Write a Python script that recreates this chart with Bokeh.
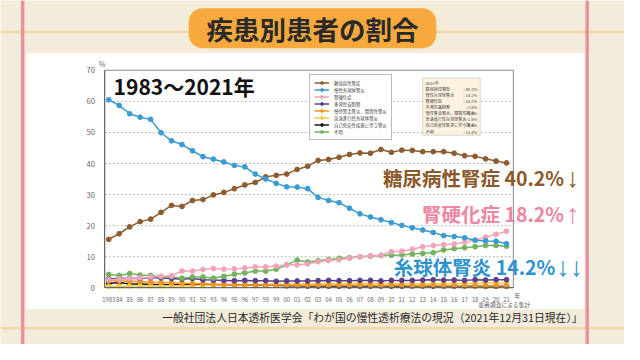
from bokeh.plotting import figure
from bokeh.models import Range1d, FixedTicker, Label, BoxAnnotation, Legend, LegendItem, LinearAxis
from bokeh.embed import file_html
from bokeh.resources import INLINE

# ---------------- data ----------------
years = [1983, 1984, 1985, 1986, 1987, 1988, 1989, 1990, 1991, 1992,
         1993, 1994, 1995, 1996, 1997, 1998, 1999, 2000, 2001, 2002,
         2003, 2004, 2005, 2006, 2007, 2008, 2009, 2010, 2011, 2012,
         2013, 2014, 2015, 2016, 2017, 2018, 2019, 2020, 2021]
year_labels = ["1983", "84", "85", "86", "87", "88", "89", "90", "91", "92",
               "93", "94", "95", "96", "97", "98", "99", "00", "01", "02",
               "03", "04", "05", "06", "07", "08", "09", "10", "11", "12",
               "13", "14", "15", "16", "17", "18", "19", "20", "21"]
y_ticks = [0, 10, 20, 30, 40, 50, 60, 70]

diabetic = [15.6, 17.4, 19.6, 21.3, 22.1, 24.3, 26.5, 26.2, 28.1, 28.4,
            29.9, 30.7, 31.9, 33.1, 33.9, 35.7, 36.2, 36.6, 38.1, 39.1,
            41.0, 41.3, 42.0, 42.9, 43.4, 43.3, 44.5, 43.6, 44.3, 44.2,
            43.8, 43.8, 43.8, 43.3, 42.5, 42.3, 41.5, 40.8, 40.2]
cgn = [60.5, 58.7, 56.0, 54.9, 54.2, 49.9, 47.3, 46.1, 44.1, 42.2,
       41.4, 40.5, 39.4, 38.9, 36.6, 35.0, 33.6, 32.5, 32.4, 31.9,
       29.1, 28.1, 27.4, 25.6, 23.8, 22.8, 21.9, 21.0, 20.1, 19.3,
       18.6, 17.8, 16.8, 16.5, 16.1, 15.3, 15.1, 15.0, 14.2]
sclerosis = [2.6, 2.8, 3.0, 3.2, 3.5, 3.7, 3.9, 5.4, 5.4, 5.9,
             6.2, 6.0, 6.1, 6.4, 6.7, 6.7, 7.0, 7.4, 7.4, 7.7,
             8.4, 8.8, 9.0, 9.5, 10.0, 10.3, 10.5, 11.6, 11.8, 12.4,
             13.2, 13.6, 13.9, 14.1, 14.7, 15.4, 16.3, 17.2, 18.2]
pkd = [2.9, 3.0, 3.1, 3.0, 3.3, 3.2, 3.0, 2.8, 3.0, 2.6,
       2.5, 2.4, 2.3, 2.4, 2.3, 2.3, 2.1, 2.2, 2.2, 2.2,
       2.3, 2.4, 2.3, 2.3, 2.4, 2.4, 2.2, 2.4, 2.4, 2.4,
       2.5, 2.6, 2.5, 2.5, 2.4, 2.6, 2.5, 2.6, 2.6]
pyelo = [2.3, 2.2, 2.1, 2.0, 1.8, 1.7, 1.6, 1.5, 1.4, 1.3,
         1.2, 1.1, 1.1, 1.0, 1.0, 0.9, 0.9, 0.9, 0.8, 0.8,
         0.8, 0.8, 0.8, 0.8, 0.8, 0.8, 0.7, 0.8, 0.8, 0.7,
         0.7, 0.8, 0.7, 0.7, 0.7, 0.6, 0.6, 0.6, 0.6]
rpgn = [0.5, 0.5, 0.6, 0.6, 0.6, 0.6, 0.7, 0.7, 0.7, 0.8,
        0.9, 1.0, 1.0, 1.0, 1.1, 1.1, 1.2, 1.2, 1.3, 1.3,
        1.3, 1.3, 1.3, 1.4, 1.4, 1.4, 1.4, 1.3, 1.2, 1.3,
        1.3, 1.4, 1.4, 1.4, 1.4, 1.5, 1.6, 1.5, 1.6]
autoimmune = [1.4, 1.7, 1.2, 1.2, 1.1, 1.0, 1.0, 1.0, 1.1, 1.1,
              1.0, 1.0, 0.9, 0.9, 0.8, 0.8, 0.8, 0.7, 0.7, 0.6,
              0.6, 0.6, 0.6, 0.6, 0.6, 0.6, 0.6, 0.6, 0.6, 0.6,
              0.6, 0.6, 0.6, 0.6, 0.6, 0.6, 0.5, 0.5, 0.5]
unknown = [4.3, 4.0, 4.6, 4.1, 4.0, 3.6, 3.6, 3.1, 3.5, 3.5,
           3.1, 3.7, 4.4, 4.8, 5.4, 5.4, 6.0, 7.4, 8.9, 8.3,
           8.7, 9.1, 9.5, 9.7, 10.0, 10.2, 10.4, 10.5, 10.6, 10.9,
           11.1, 11.3, 12.2, 12.6, 12.9, 13.2, 13.6, 13.6, 13.4]

series_names = ["糖尿病性腎症", "慢性糸球体腎炎", "腎硬化症", "多発性嚢胞腎",
                "慢性腎盂腎炎、間質性腎炎", "急速進行性糸球体腎炎",
                "自己免疫性疾患に伴う腎炎", "不明"]
series_values = [diabetic, cgn, sclerosis, pkd, pyelo, rpgn, autoimmune, unknown]
series_colors = ["#8d5b2e", "#3b9bd3", "#f3a3b8", "#5b3f8c",
                 "#f0961e", "#f7c948", "#1a1a1a", "#6fb35b"]
draw_order = [6, 5, 4, 3, 7, 2, 0, 1]

JP = "Noto Sans CJK JP"
CREAM = "#f3ecda"

# ---------------- layout (reference is 640x360, figure is 624x344) ----------------
W, H = 624, 344
SX, SY = W / 640, H / 360


def fx(X):  # reference x -> screen units (from canvas left)
    return X * SX


def fy(Y):  # reference y -> screen units (from canvas bottom)
    return H - Y * SY


# calibration of the chart area in reference pixels
REF_X_FIRST, REF_X_LAST = 111, 519      # 1983, 2021
REF_Y_ZERO, REF_Y_TOP = 300.7, 73       # 0 %, 70 %
px_per_year = (REF_X_LAST - REF_X_FIRST) * SX / (years[-1] - years[0])
px_per_pct = (REF_Y_ZERO - REF_Y_TOP) * SY / y_ticks[-1]
x_start = years[0] - fx(REF_X_FIRST) / px_per_year
x_end = x_start + W / px_per_year
y_start = -fy(REF_Y_ZERO) / px_per_pct
y_end = y_start + H / px_per_pct

# chart box in data units
ref_per_year = (REF_X_LAST - REF_X_FIRST) / (years[-1] - years[0])
cx0 = years[0] - (REF_X_FIRST - 107) / ref_per_year
cx1 = years[-1] + (526 - REF_X_LAST) / ref_per_year

p = figure(width=W, height=H, x_range=Range1d(x_start, x_end), y_range=Range1d(y_start, y_end),
           output_backend="svg", toolbar_location=None,
           x_axis_location=None, y_axis_location=None, min_border=0)
p.background_fill_color = CREAM
p.border_fill_color = CREAM
p.outline_line_color = None
p.grid.visible = False


def box(X1, Y1, X2, Y2, color, radius=0, level="underlay"):
    p.add_layout(BoxAnnotation(left=fx(X1), right=fx(X2), top=fy(Y1), bottom=fy(Y2),
                               left_units="screen", right_units="screen",
                               top_units="screen", bottom_units="screen",
                               fill_color=color, fill_alpha=1, line_alpha=0,
                               border_radius=radius, level=level))


def dashline(X1, X2, Y, color):
    p.add_layout(BoxAnnotation(left=fx(X1), right=fx(X2), top=fy(Y), bottom=fy(Y),
                               left_units="screen", right_units="screen",
                               top_units="screen", bottom_units="screen",
                               fill_alpha=0, line_color=color, line_width=2.5,
                               line_dash="9 3", level="underlay"))


def put(text, X, Y, size, color, align="left", bold=False, font=JP):
    p.add_layout(Label(x=fx(X), y=fy(Y), x_units="screen", y_units="screen",
                       text=text, text_font=font, text_font_size=f"{size}px",
                       text_color=color, text_align=align, text_baseline="middle",
                       text_font_style="bold" if bold else "normal"))


# background decorations
dashline(0, 640, 33, "#f2a43a")
dashline(0, 640, 343, "#f2a43a")
box(21, 0, 24.5, 360, "#e8909e")
box(600, 0, 603.5, 360, "#e8909e")
box(27, 55, 599, 323, "white")
box(193, 8, 447, 50, "#f6aa3e", radius=14)

# grid lines and chart frame
p.segment(x0=cx0, x1=cx1, y0=y_ticks[1:-1], y1=y_ticks[1:-1],
          line_color="#b8b8b8", line_dash="2 2", line_width=1)
p.quad(left=cx0, right=cx1, bottom=y_ticks[0], top=y_ticks[-1],
       fill_alpha=0, line_color="#8a8a8a", line_width=1)

# axes inside the canvas
yax = LinearAxis(fixed_location=cx0, bounds=(y_ticks[0], y_ticks[-1]),
                 ticker=FixedTicker(ticks=y_ticks))
yax.axis_line_color = "#666"
yax.major_tick_line_color = None
yax.minor_tick_line_color = None
yax.major_label_text_font = JP
yax.major_label_text_font_size = "7.5px"
yax.major_label_text_color = "#666"
yax.major_label_standoff = 4
p.add_layout(yax, "left")

xax = LinearAxis(fixed_location=y_ticks[0], bounds=(cx0, cx1),
                 ticker=FixedTicker(ticks=years))
xax.major_label_overrides = {y: lab for y, lab in zip(years, year_labels)}
xax.axis_line_color = "#666"
xax.major_tick_line_color = None
xax.minor_tick_line_color = None
xax.major_label_text_font = JP
xax.major_label_text_font_size = "5.8px"
xax.major_label_text_color = "#666"
xax.major_label_standoff = 3
p.add_layout(xax, "below")

# series
renderers = {}
for i in draw_order:
    r1 = p.line(years, series_values[i], line_color=series_colors[i], line_width=1.5)
    r2 = p.scatter(years, series_values[i], size=4.8, fill_color=series_colors[i],
                   line_color=series_colors[i])
    renderers[i] = [r1, r2]

legend = Legend(items=[LegendItem(label=series_names[i], renderers=renderers[i])
                       for i in range(len(series_names))],
                location=(round(fx(317)), round(fy(147))),
                label_text_font=JP, label_text_font_size="4.4px", label_text_color="#444",
                label_height=7, glyph_height=7, glyph_width=15, label_standoff=5,
                spacing=0, padding=4, margin=0,
                border_line_color="#777", border_line_width=1,
                background_fill_color="white", background_fill_alpha=1)
p.add_layout(legend)

# 2021 info box
box(433, 81, 492, 141, "#fdf1e0", level="annotation")
p.add_layout(BoxAnnotation(left=fx(433), right=fx(492), top=fy(81), bottom=fy(141),
                           left_units="screen", right_units="screen",
                           top_units="screen", bottom_units="screen",
                           fill_alpha=0, line_color="#888", line_width=1))
put("2021年", 436, 86.5, 4.1, "#444")
for k, name in enumerate(series_names):
    yy = 93 + 6.3 * k
    put(name, 436, yy, 4.1, "#444")
    put(f": {series_values[k][-1]:.1f}%", 489, yy, 4.1, "#444", align="right")

# texts
put("疾患別患者の割合", 320, 29, 26.5, "#2a2a2a", align="center", bold=True)
put("1983～2021年", 116, 89, 21, "#111111", bold=True)
put("%", 101, 66, 7, "#666")
put("年", 527, 309, 6, "#666")
put("患者調査による集計", 490, 318, 5.8, "#555")
put("一般社団法人日本透析医学会「わが国の慢性透析療法の現況（2021年12月31日現在）」",
    597, 331, 10.8, "#2a2a2a", align="right")

# highlighted values with trend arrows
BROWN_T, PINK_T, BLUE_T = "#8a5a2c", "#ee86a0", "#2e92cf"
put(f"糖尿病性腎症 {diabetic[-1]:.1f}%", 578, 185, 19.5, BROWN_T, align="right", bold=True)
put("↓", 580, 186, 27, BROWN_T, font="Liberation Sans")
put(f"腎硬化症 {sclerosis[-1]:.1f}%", 578, 223, 19.5, PINK_T, align="right", bold=True)
put("↑", 580, 223, 27, PINK_T, font="Liberation Sans")
put(f"糸球体腎炎 {cgn[-1]:.1f}%", 569, 278, 19.5, BLUE_T, align="right", bold=True)
put("↓↓", 570, 279, 27, BLUE_T, font="Liberation Sans")

open("out.html", "w").write(file_html(p, INLINE))
